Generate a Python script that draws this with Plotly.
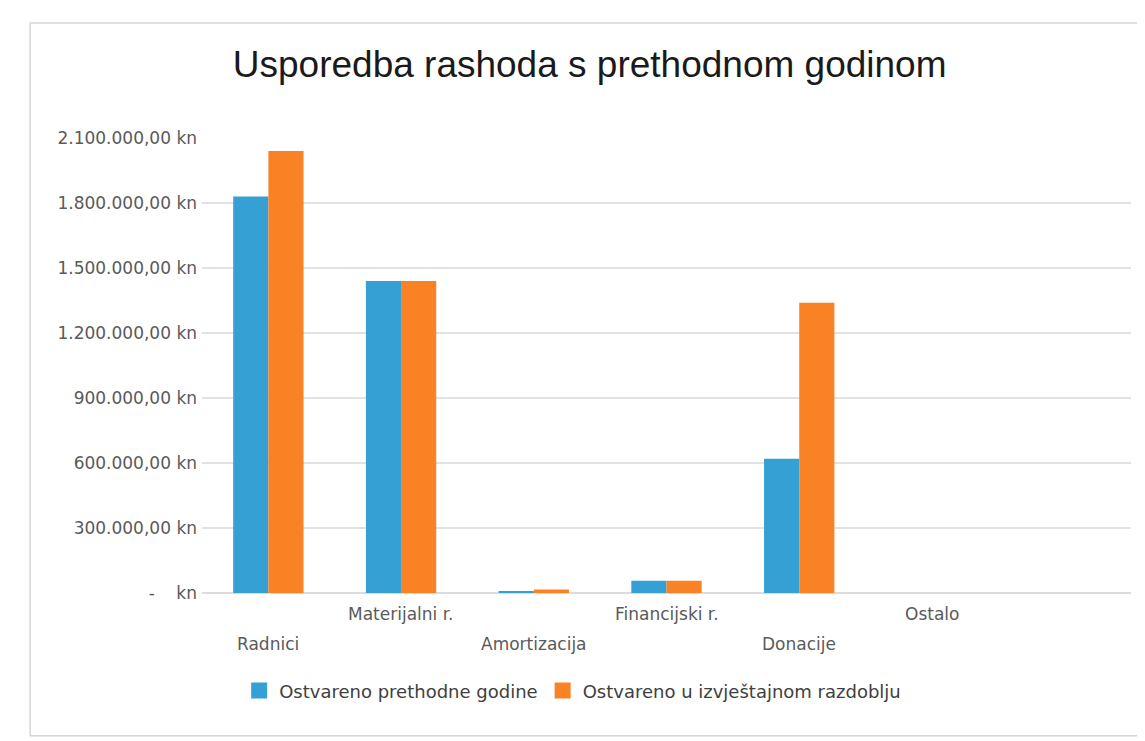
import plotly.graph_objects as go

# ── Data ──────────────────────────────────────────────────────────────────────
categories = ["Radnici", "Materijalni r.", "Amortizacija", "Financijski r.", "Donacije", "Ostalo"]
prev_year = [1830000, 1440000, 9000, 57000, 620000, 0]
this_period = [2040000, 1440000, 16000, 57000, 1340000, 0]
series_names = ["Ostvareno prethodne godine", "Ostvareno u izvještajnom razdoblju"]
y_ticks = [0, 300000, 600000, 900000, 1200000, 1500000, 1800000, 2100000]

BLUE = "#35A0D3"
ORANGE = "#F98324"
TEXT = "#5a5a5a"
FONT = "DejaVu Sans"


def kn(v):
    # Croatian accounting style: 1.800.000,00 kn, zero shown as a dash
    if v == 0:
        return "-\u00a0\u00a0\u00a0\u00a0kn"
    s = f"{v:,.2f}".replace(",", "#").replace(".", ",").replace("#", ".")
    return f"{s} kn"


fig = go.Figure()
for name, vals, col in [(series_names[0], prev_year, BLUE),
                        (series_names[1], this_period, ORANGE)]:
    fig.add_trace(go.Bar(x=categories, y=vals, name=name, marker=dict(color=col, line=dict(width=0)),
                         showlegend=False, legendgroup=name))
    # bigger legend swatch than the bar default
    fig.add_trace(go.Scatter(x=[None], y=[None], mode="markers", name=name, legendgroup=name,
                             marker=dict(symbol="square", size=30, color=col)))

# staggered category labels, like the spreadsheet did it
for i, c in enumerate(categories):
    fig.add_annotation(x=c, y=0, xref="x", yref="y", text=c, showarrow=False,
                       yanchor="middle", yshift=-51 if i % 2 == 0 else -21,
                       font=dict(family=FONT, size=17, color=TEXT))

# chart frame
fig.add_shape(type="rect", xref="paper", yref="paper", x0=-0.185, x1=1.03, y0=-0.314, y1=1.253,
              line=dict(color="#d6d6d6", width=1.5), fillcolor="rgba(0,0,0,0)", layer="below")

fig.update_layout(
    width=1145, height=741,
    paper_bgcolor="white", plot_bgcolor="white",
    barmode="group", bargap=0.47, bargroupgap=0,
    title=dict(text="Usporedba rashoda s prethodnom godinom", x=0.508, xanchor="center",
               y=0.925, yanchor="middle", font=dict(family="Liberation Sans", size=37, color="#1a1a1a")),
    margin=dict(l=194, r=22, t=130, b=156),
    xaxis=dict(range=[-0.5, 6.5], showticklabels=False, showgrid=False, zeroline=False,
               showline=False, ticks=""),
    yaxis=dict(range=[0, 2100000], tickvals=y_ticks, ticktext=[kn(v) for v in y_ticks],
               showgrid=True, gridcolor="#e2e2e2", gridwidth=1.5, zeroline=True,
               zerolinecolor="#dcdcdc", zerolinewidth=1.5, ticks="", ticklabelstandoff=4,
               tickfont=dict(family=FONT, size=17, color=TEXT)),
    legend=dict(orientation="h", x=0.04, xanchor="left", y=-0.215, yanchor="middle",
                itemsizing="trace", font=dict(family=FONT, size=18, color="#404040"),
                bgcolor="rgba(0,0,0,0)"),
    font=dict(family=FONT, color=TEXT),
)

fig.write_html("out.html")
